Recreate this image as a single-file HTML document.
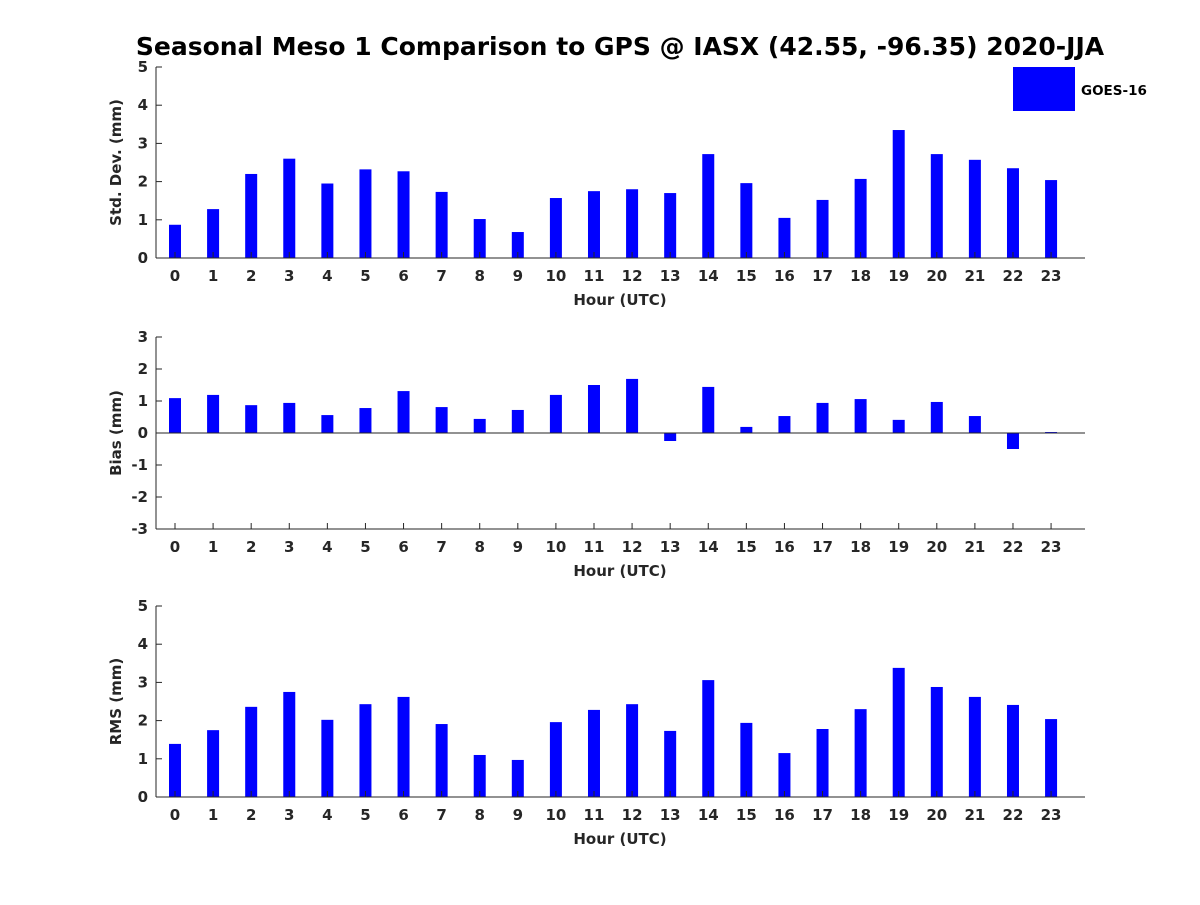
<!DOCTYPE html>
<html><head><meta charset="utf-8"><style>
body{margin:0;background:#fff}
svg text{font-family:"DejaVu Sans","Liberation Sans",sans-serif;font-weight:bold;fill:#262626}
</style></head><body>
<svg id="chart" width="1200" height="900" xmlns="http://www.w3.org/2000/svg">
<text x="620" y="55" font-size="25" text-anchor="middle" style="fill:#000">Seasonal Meso 1 Comparison to GPS @ IASX (42.55, -96.35) 2020-JJA</text>
<rect x="1013" y="67" width="62" height="44" fill="#0000ff"/>
<text x="1081" y="95" font-size="13.5" style="fill:#000">GOES-16</text>
</svg>
<script>
const hours=[0,1,2,3,4,5,6,7,8,9,10,11,12,13,14,15,16,17,18,19,20,21,22,23];
const stdValues=[0.87,1.28,2.2,2.6,1.95,2.32,2.27,1.73,1.02,0.68,1.57,1.75,1.8,1.7,2.72,1.96,1.05,1.52,2.07,3.35,2.72,2.57,2.35,2.04];
const biasValues=[1.09,1.19,0.87,0.94,0.56,0.78,1.31,0.81,0.44,0.72,1.19,1.5,1.69,-0.25,1.44,0.19,0.53,0.94,1.06,0.41,0.97,0.53,-0.5,0.03];
const rmsValues=[1.39,1.75,2.36,2.75,2.02,2.43,2.62,1.91,1.1,0.97,1.96,2.28,2.43,1.73,3.06,1.94,1.15,1.78,2.3,3.38,2.88,2.62,2.41,2.04];
const stdTicks=[0,1,2,3,4,5];
const biasTicks=[-3,-2,-1,0,1,2,3];
const rmsTicks=[0,1,2,3,4,5];
const svg=document.getElementById('chart');
const NS='http://www.w3.org/2000/svg';
function mk(tag,attrs){const e=document.createElementNS(NS,tag);for(const k in attrs)e.setAttribute(k,attrs[k]);svg.appendChild(e);return e;}
const xL=156,xR=1085;
function xs(h){return 175+h*38.09;}
function panel(key,top,bot,ymin,ymax,vals,ticks,ylabel){
  const ys=v=>bot-(v-ymin)/(ymax-ymin)*(bot-top);
  const z=ys(Math.max(0,ymin));
  vals.forEach((v,i)=>{
    const y1=ys(v);
    const r=mk('rect',{x:xs(hours[i])-6,y:Math.min(y1,z),width:12,height:Math.abs(z-y1),fill:'#0000ff'});
    
    
  });
  const ax=mk('line',{x1:xL,y1:top,x2:xL,y2:bot,stroke:'#262626','stroke-width':1});
  
  
  const bx=mk('line',{x1:xL,y1:bot,x2:xR,y2:bot,stroke:'#262626','stroke-width':1});
  
  
  if(ymin<0){
    const zl=mk('line',{x1:xL,y1:z,x2:xR,y2:z,stroke:'#262626','stroke-width':1});
    
    
  }
  ticks.forEach(t=>{
    const y=ys(t);
    mk('line',{x1:xL,y1:y,x2:xL+6,y2:y,stroke:'#262626'});
    const tx=mk('text',{x:xL-8,y:y+5,'font-size':15,'text-anchor':'end'});
    tx.textContent=t;
    
    
  });
  hours.forEach(h=>{
    const x=xs(h);
    mk('line',{x1:x,y1:bot,x2:x,y2:bot-6,stroke:'#262626'});
    const tx=mk('text',{x:x,y:bot+23,'font-size':15,'text-anchor':'middle'});
    tx.textContent=h;
    
    
  });
  const xt=mk('text',{x:620,y:bot+47,'font-size':15,'text-anchor':'middle'});
  xt.textContent='Hour (UTC)';
  
  
  const cy=(top+bot)/2;
  const yt=mk('text',{x:121,y:cy,'font-size':15,'text-anchor':'middle',transform:'rotate(-90 121 '+cy+')'});
  yt.textContent=ylabel;
  
  
}
panel('std',67,258,0,5,stdValues,stdTicks,'Std. Dev. (mm)');
panel('bias',337,529,-3,3,biasValues,biasTicks,'Bias (mm)');
panel('rms',606,797,0,5,rmsValues,rmsTicks,'RMS (mm)');
</script>
</body></html>
